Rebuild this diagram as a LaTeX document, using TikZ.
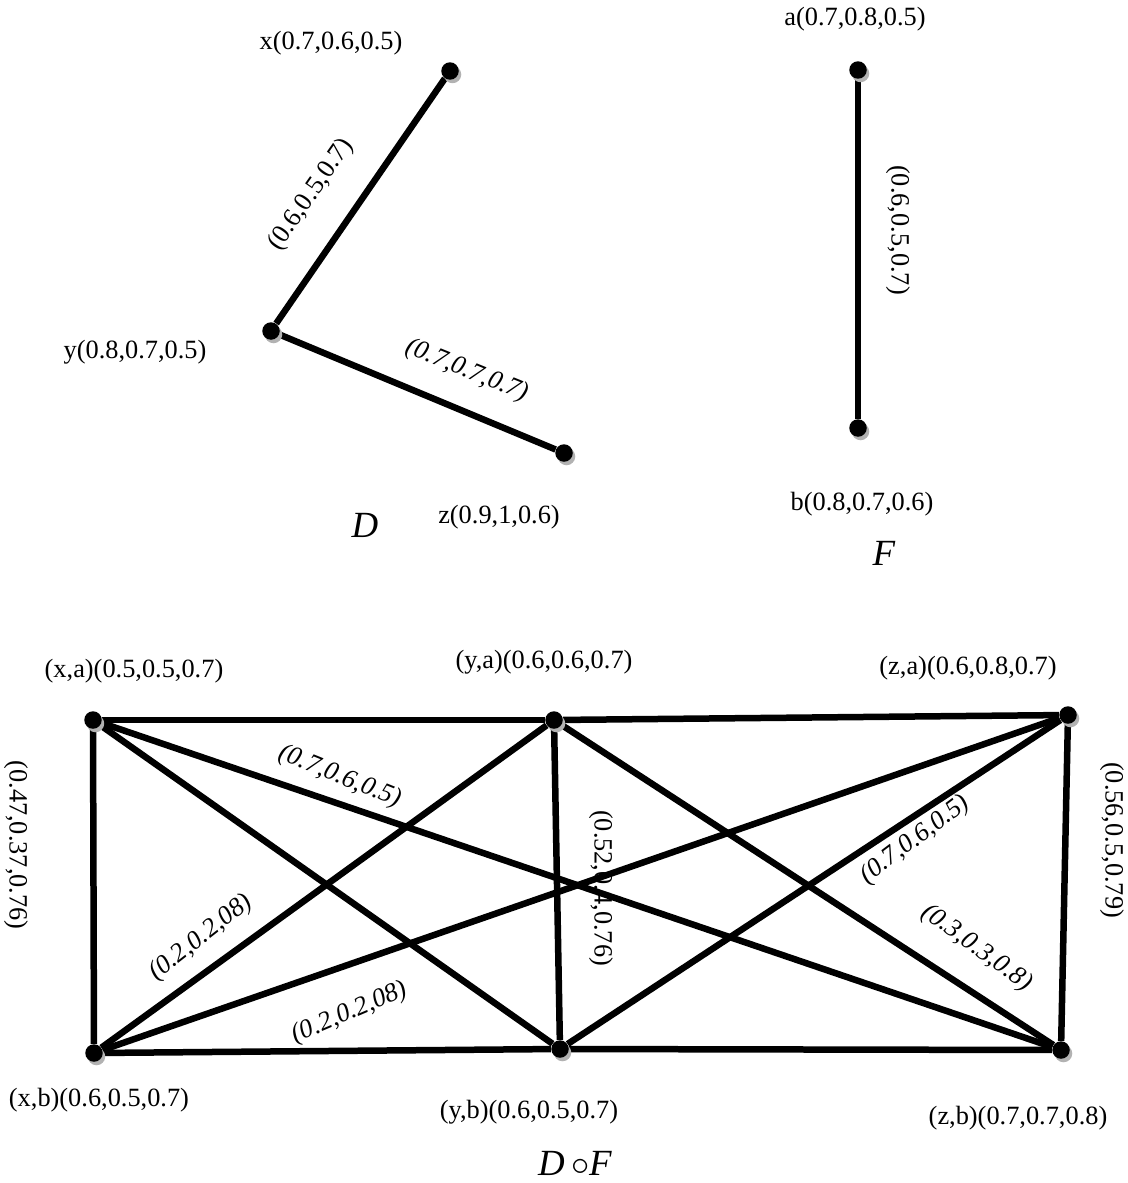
\documentclass[tikz,border=0pt]{standalone}
\usepackage{fontspec}
\setmainfont{Liberation Serif}
\usetikzlibrary{positioning,shadows,backgrounds}

\tikzset{
  vdot/.style={circle, fill=black, inner sep=0pt, minimum size=0.35cm,
               drop shadow={shadow xshift=0.05cm, shadow yshift=-0.07cm, fill=black!30, opacity=1}},
  link/.style={line width=0.13cm, draw=black},
  vlbl/.style={font=\fontsize{15}{18}\selectfont, inner sep=1pt},
  elbl/.style={font=\fontsize{15}{18}\selectfont\itshape, inner sep=1pt},
  gname/.style={font=\fontsize{21}{24}\selectfont\itshape, inner sep=1pt}
}

\begin{document}
\begin{tikzpicture}[x=0.02cm, y=-0.02cm]
  \useasboundingbox (0,0) rectangle (1127,1183);

  % graph D
  \node[vdot] (x) at (450,71) {};
  \node[vdot] (y) at (271,331) {};
  \node[vdot] (z) at (564,453) {};
  \node[vlbl] (lx) at (331,43) {x(0.7,0.6,0.5)};
  \node[vlbl] (ly) at (135,352) {y(0.8,0.7,0.5)};
  \node[vlbl] (lz) at (499,517) {z(0.9,1,0.6)};
  \node[vlbl, rotate=55] (lxy) at (311,195) {(0.6,0.5,0.7)};
  \node[elbl, rotate=-22] (lyz) at (467,371) {(0.7,0.7,0.7)};
  \node[gname] (gD) at (365,525) {D};

  % graph F
  \node[vdot] (a) at (858,70) {};
  \node[vdot] (b) at (858,428) {};
  \node[vlbl] (la) at (855,19) {a(0.7,0.8,0.5)};
  \node[vlbl] (lb) at (862,504) {b(0.8,0.7,0.6)};
  \node[vlbl, rotate=-90] (lab) at (898,230) {(0.6,0.5,0.7)};
  \node[gname] (gF) at (884,553) {F};

  % product D o F
  \node[vdot] (xa) at (93,720) {};
  \node[vdot] (ya) at (554,720) {};
  \node[vdot] (za) at (1068,715) {};
  \node[vdot] (xb) at (94,1053) {};
  \node[vdot] (yb) at (560,1049) {};
  \node[vdot] (zb) at (1061,1050) {};
  \node[vlbl] (lxa) at (134,671) {(x,a)(0.5,0.5,0.7)};
  \node[vlbl] (lya) at (544,662) {(y,a)(0.6,0.6,0.7)};
  \node[vlbl] (lza) at (968,668) {(z,a)(0.6,0.8,0.7)};
  \node[vlbl] (lxb) at (99,1100) {(x,b)(0.6,0.5,0.7)};
  \node[vlbl] (lyb) at (529,1112) {(y,b)(0.6,0.5,0.7)};
  \node[vlbl] (lzb) at (1018,1118) {(z,b)(0.7,0.7,0.8)};

  \node[vlbl, rotate=-90] (lxaxb) at (16,845) {(0.47,0.37,0.76)};
  \node[vlbl, rotate=-90] (lyayb) at (601,888) {(0.52,0.4,0.76)};
  \node[vlbl, rotate=-90] (lzazb) at (1112,840) {(0.56,0.5,0.79)};
  \node[elbl, rotate=-22] (lxazb) at (340,777) {(0.7,0.6,0.5)};
  \node[elbl, rotate=38] (lyaxb) at (201,938) {(0.2,0.2,08)};
  \node[elbl, rotate=23] (lzaxb) at (350,1013) {(0.2,0.2,08)};
  \node[elbl, rotate=37] (lzayb) at (915,840) {(0.7,0.6,0.5)};
  \node[elbl, rotate=-36] (lyazb) at (977,948) {(0.3,0.3,0.8)};
  \node[gname] (gDF) at (575,1163) {D\,$\circ$F};

  \begin{scope}[on background layer]
    \draw[link] (x) -- (y);
    \draw[link] (y) -- (z);
    \draw[link] (a) -- (b);
    % sides
    \draw[link] (xa) -- (ya);
    \draw[link] (ya) -- (za);
    \draw[link] (xb) -- (yb);
    \draw[link] (yb) -- (zb);
    \draw[link] (xa) -- (xb);
    \draw[link] (ya) -- (yb);
    \draw[link] (za) -- (zb);
    % diagonals
    \draw[link] (xa) -- (yb);
    \draw[link] (xa) -- (zb);
    \draw[link] (ya) -- (xb);
    \draw[link] (ya) -- (zb);
    \draw[link] (za) -- (xb);
    \draw[link] (za) -- (yb);
  \end{scope}
\end{tikzpicture}
\end{document}
